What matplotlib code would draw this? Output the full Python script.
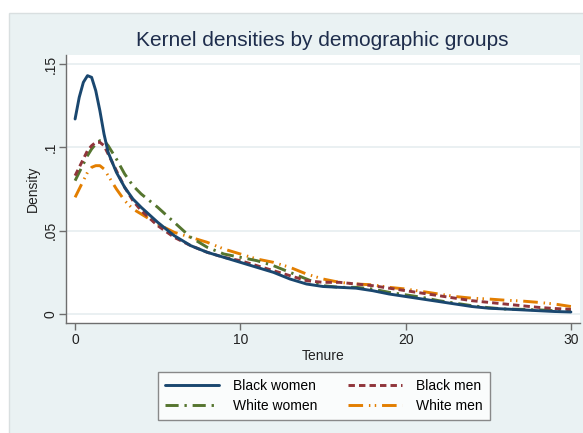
import matplotlib
matplotlib.use("Agg")
import matplotlib.pyplot as plt
from matplotlib.patches import Rectangle

plt.rcParams['font.family'] = ['Liberation Sans', 'DejaVu Sans']

tenure = [0, 0.25, 0.5, 0.75, 1.0, 1.25, 1.5, 1.75, 2.0, 2.5, 3, 3.5, 4, 5, 6, 7, 8, 9, 10,
          11, 12, 13, 14, 15, 16, 17, 18, 19, 20, 21, 22, 23, 24, 25, 26, 27, 28, 29, 30]

black_women = [0.117, 0.130, 0.139, 0.143, 0.142, 0.134, 0.122, 0.108, 0.097, 0.085, 0.076,
               0.069, 0.064, 0.055, 0.047, 0.041, 0.037, 0.034, 0.031, 0.028, 0.025, 0.021,
               0.018, 0.0165, 0.016, 0.0155, 0.014, 0.012, 0.0105, 0.009, 0.0075, 0.006,
               0.0045, 0.0035, 0.003, 0.0025, 0.002, 0.0015, 0.0012]
black_men = [0.083, 0.088, 0.093, 0.098, 0.101, 0.103, 0.103, 0.101, 0.096, 0.086, 0.076,
             0.068, 0.062, 0.053, 0.046, 0.041, 0.037, 0.034, 0.032, 0.029, 0.026, 0.023,
             0.020, 0.019, 0.019, 0.018, 0.017, 0.0155, 0.014, 0.0125, 0.011, 0.0095,
             0.008, 0.007, 0.006, 0.005, 0.004, 0.0033, 0.0028]
white_women = [0.080, 0.085, 0.090, 0.095, 0.099, 0.102, 0.104, 0.104, 0.101, 0.093, 0.084,
               0.077, 0.072, 0.064, 0.055, 0.046, 0.040, 0.036, 0.034, 0.032, 0.029, 0.025,
               0.021, 0.017, 0.016, 0.016, 0.015, 0.013, 0.0115, 0.010, 0.008, 0.0065,
               0.005, 0.0038, 0.003, 0.0028, 0.0025, 0.002, 0.0018]
white_men = [0.070, 0.075, 0.080, 0.085, 0.088, 0.089, 0.089, 0.087, 0.083, 0.075, 0.068,
             0.063, 0.060, 0.054, 0.049, 0.046, 0.043, 0.039, 0.036, 0.033, 0.031, 0.028,
             0.024, 0.021, 0.019, 0.018, 0.0175, 0.016, 0.015, 0.0135, 0.012, 0.0105,
             0.0095, 0.009, 0.0083, 0.0078, 0.007, 0.006, 0.0045]

labels = ["Black women", "Black men", "White women", "White men"]
xticks = [0, 10, 20, 30]
yticks = [0, 0.05, 0.10, 0.15]
yticklabels = ["0", ".05", ".1", ".15"]

W, H = 583, 433
fig = plt.figure(figsize=(W / 100, H / 100), dpi=100)
fig.patch.set_facecolor("white")

bg = "#eaf2f3"
fig.patches.append(Rectangle((9 / W, -0.01), 1.0, 1 - 13 / H + 0.01, transform=fig.transFigure,
                             facecolor=bg, edgecolor="#d9dfe0", linewidth=1.0, zorder=-10))

ax = fig.add_axes([66 / W, 1 - 323 / H, (580 - 66) / W, (323 - 55) / H])
ax.set_zorder(1)
ax.set_facecolor("white")

lw = 2.1
l_bw, = ax.plot(tenure, black_women, color="#1a476f", lw=lw, solid_capstyle="round", label=labels[0], zorder=5)
l_bm, = ax.plot(tenure, black_men, color="#90353b", lw=lw, linestyle=(0, (2.2, 1.4)), label=labels[1], zorder=4)
l_ww, = ax.plot(tenure, white_women, color="#55752f", lw=lw, linestyle=(0, (4.5, 2.0, 0.8, 2.0)), label=labels[2], zorder=3)
l_wm, = ax.plot(tenure, white_men, color="#e37e00", lw=lw, linestyle=(0, (5.0, 2.0, 0.5, 1.5, 0.5, 2.0)), label=labels[3], zorder=2)

ax.set_xlim(-0.55, 30.55)
ax.set_ylim(-0.0054, 0.1554)

ax.set_xticks(xticks)
ax.set_yticks(yticks)
ax.set_yticklabels(yticklabels, rotation=90, va="center")
ax.grid(axis="y", color="#e6eef0", linewidth=1.2, zorder=0)
ax.set_axisbelow(True)

for s in ["top", "right"]:
    ax.spines[s].set_visible(False)
for s in ["left", "bottom"]:
    ax.spines[s].set_color("#6e6e6e")
    ax.spines[s].set_linewidth(1.0)

ax.tick_params(axis="both", direction="out", length=5, width=1, color="#6e6e6e",
               labelsize=10, labelcolor="#222222")
ax.tick_params(axis="x", pad=2)
ax.tick_params(axis="y", pad=1)

ax.set_xlabel("Tenure", fontsize=10, color="#222222", labelpad=2)
ax.set_ylabel("Density", fontsize=10, color="#222222", labelpad=3)

fig.text(322 / W, 1 - 40 / H, "Kernel densities by demographic groups", ha="center", va="center",
         fontsize=15, color="#1e2d4c")

handles = [l_bw, l_ww, l_bm, l_wm]
leg = ax.legend(handles, [h.get_label() for h in handles],
                loc="center", bbox_to_anchor=(324 / W, 1 - 396 / H), bbox_transform=fig.transFigure,
                ncol=2, frameon=True, fancybox=False, fontsize=10, handlelength=3.9,
                columnspacing=2.2, handletextpad=1.0, labelspacing=0.45, borderpad=0.5)
leg.get_frame().set_edgecolor("#6e6e6e")
leg.get_frame().set_linewidth(1.0)
leg.get_frame().set_facecolor("white")

fig.savefig("out.png", dpi=100, facecolor="white")
